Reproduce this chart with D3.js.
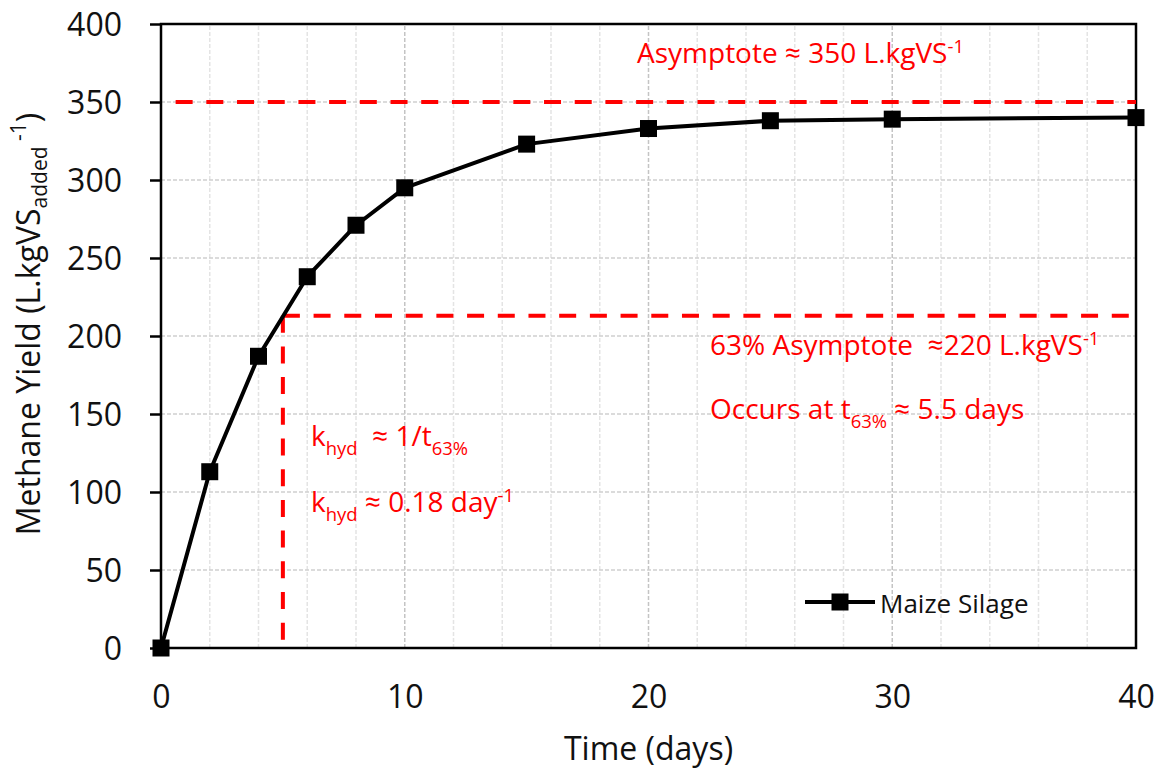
<!DOCTYPE html>
<html>
<head>
<meta charset="utf-8">
<script src="https://cdn.jsdelivr.net/npm/d3@7"></script>
<style>
  html, body { margin: 0; padding: 0; background: #fff; }
  svg { display: block; font-family: "Open Sans", "Noto Sans", sans-serif; }
</style>
</head>
<body>
<svg id="chart" width="1167" height="773"></svg>
<script>
// Cumulative methane yield of maize silage over the digestion period
const days = [0, 2, 4, 6, 8, 10, 15, 20, 25, 30, 40];
const yieldValues = [0, 113, 187, 238, 271, 295, 323, 333, 338, 339, 340];
const seriesName = "Maize Silage";

const xTicks = [0, 10, 20, 30, 40];
const xMinorGrid = [2, 4, 6, 8, 12, 14, 16, 18, 22, 24, 26, 28, 32, 34, 36, 38];
const yTicks = [0, 50, 100, 150, 200, 250, 300, 350, 400];

// Reference lines: asymptote and 63 % of asymptote with its time
const asymptote = 350;
const asymptoteStart = 0.6;
const yield63 = 213;
const t63 = 5;

const width = 1167, height = 773;
const margin = { left: 161, right: 31, top: 24, bottom: 125 };

const svg = d3.select("#chart");
const x = d3.scaleLinear().domain([0, 40]).range([margin.left, width - margin.right]);
const y = d3.scaleLinear().domain([0, 400]).range([height - margin.bottom, margin.top]);

const red = "#ff0000";

// Grid
const grid = svg.append("g");
grid.selectAll("line.minor").data(xMinorGrid).join("line")
  .attr("x1", d => x(d)).attr("x2", d => x(d))
  .attr("y1", y(0)).attr("y2", y(400))
  .attr("stroke", "#e4e4e4").attr("stroke-width", 1.5)
  .attr("stroke-dasharray", "4 2");
grid.selectAll("line.major").data(xTicks.slice(1, -1)).join("line")
  .attr("x1", d => x(d)).attr("x2", d => x(d))
  .attr("y1", y(0)).attr("y2", y(400))
  .attr("stroke", "#c4c4c4").attr("stroke-width", 1.5)
  .attr("stroke-dasharray", "4 2");
grid.selectAll("line.h").data(yTicks.slice(1, -1)).join("line")
  .attr("x1", x(0)).attr("x2", x(40))
  .attr("y1", d => y(d)).attr("y2", d => y(d))
  .attr("stroke", "#d0d0d0").attr("stroke-width", 1.5)
  .attr("stroke-dasharray", "4 2");

// Axes
const yAxis = d3.axisLeft(y).tickValues(yTicks).tickSize(11).tickPadding(28);
const gy = svg.append("g").attr("transform", `translate(${x(0)},0)`).call(yAxis);
gy.select(".domain").remove();
gy.selectAll(".tick line").attr("stroke", "#000").attr("stroke-width", 2.5);
gy.selectAll(".tick text").attr("font-size", 32).attr("fill", "#111")
  .attr("font-family", "Open Sans").attr("dy", "0.36em");

const xAxis = d3.axisBottom(x).tickValues(xTicks).tickSize(0).tickPadding(0);
const gx = svg.append("g").attr("transform", `translate(0,${y(0)})`).call(xAxis);
gx.select(".domain").remove();
gx.selectAll(".tick text").attr("font-size", 32).attr("fill", "#111")
  .attr("font-family", "Open Sans").attr("dy", null).attr("y", 60);

// Plot frame
svg.append("rect")
  .attr("x", x(0)).attr("y", y(400))
  .attr("width", x(40) - x(0)).attr("height", y(0) - y(400))
  .attr("fill", "none").attr("stroke", "#000").attr("stroke-width", 2.5);

// Red dashed reference lines
const refs = svg.append("g").attr("stroke", red).attr("stroke-width", 4)
  .attr("stroke-dasharray", "17 13.7").attr("fill", "none");
refs.append("line")
  .attr("x1", x(asymptoteStart)).attr("x2", x(40))
  .attr("y1", y(asymptote)).attr("y2", y(asymptote));
refs.append("line")
  .attr("x1", x(t63)).attr("x2", x(40))
  .attr("y1", y(yield63)).attr("y2", y(yield63));
refs.append("line")
  .attr("x1", x(t63)).attr("x2", x(t63))
  .attr("y1", y(yield63)).attr("y2", y(0));

// Series line and square markers
const pts = days.map((d, i) => [d, yieldValues[i]]);
svg.append("path")
  .datum(pts)
  .attr("fill", "none").attr("stroke", "#000").attr("stroke-width", 4)
  .attr("stroke-linejoin", "round")
  .attr("d", d3.line().x(d => x(d[0])).y(d => y(d[1])));
const ms = 17;
svg.selectAll("rect.marker").data(pts).join("rect")
  .attr("class", "marker")
  .attr("x", d => x(d[0]) - ms / 2).attr("y", d => y(d[1]) - ms / 2)
  .attr("width", ms).attr("height", ms).attr("fill", "#000");

// Axis titles
svg.append("text")
  .attr("x", (x(0) + x(40)) / 2).attr("y", 760)
  .attr("text-anchor", "middle").attr("font-size", 32).attr("fill", "#111")
  .text("Time (days)");

const yt = svg.append("text")
  .attr("transform", `translate(40,${(y(0) + y(400)) / 2 - 12}) rotate(-90)`)
  .attr("text-anchor", "middle").attr("font-size", 32).attr("fill", "#111");
yt.append("tspan").text("Methane Yield (L.kgVS");
yt.append("tspan").attr("font-size", 21).attr("dy", 7).text("added");
yt.append("tspan").attr("font-size", 21).attr("dy", -21).text(" -1");
yt.append("tspan").attr("dy", 14).text(")");

// Annotations
function note(px, py, parts, size) {
  const t = svg.append("text").attr("x", px).attr("y", py)
    .attr("font-size", size).attr("fill", red);
  let shift = 0;
  parts.forEach(p => {
    const s = p.sub ? 0.32 * size : p.sup ? -0.36 * size : 0;
    t.append("tspan")
      .attr("font-size", p.sub || p.sup ? size * 0.66 : size)
      .attr("dy", s - shift)
      .attr("xml:space", "preserve")
      .text(p.t);
    shift = s;
  });
}
const fs = 28;
note(637, 63, [{ t: "Asymptote ≈ 350 L.kgVS" }, { t: "-1", sup: true }], fs);
note(710, 355, [{ t: "63% Asymptote  ≈220 L.kgVS" }, { t: "-1", sup: true }], fs);
note(710, 419, [{ t: "Occurs at t" }, { t: "63%", sub: true }, { t: " ≈ 5.5 days" }], fs);
note(311, 446, [{ t: "k" }, { t: "hyd", sub: true }, { t: "  ≈ 1/t" }, { t: "63%", sub: true }], fs);
note(311, 512, [{ t: "k" }, { t: "hyd", sub: true }, { t: " ≈ 0.18 day" }, { t: "-1", sup: true }], fs);

// Legend
const lg = svg.append("g");
lg.append("line").attr("x1", 805).attr("x2", 875).attr("y1", 602).attr("y2", 602)
  .attr("stroke", "#000").attr("stroke-width", 4);
lg.append("rect").attr("x", 840 - ms / 2).attr("y", 602 - ms / 2)
  .attr("width", ms).attr("height", ms).attr("fill", "#000");
lg.append("text").attr("x", 880).attr("y", 613).attr("font-size", 26).attr("fill", "#111")
  .text(seriesName);
</script>
</body>
</html>
